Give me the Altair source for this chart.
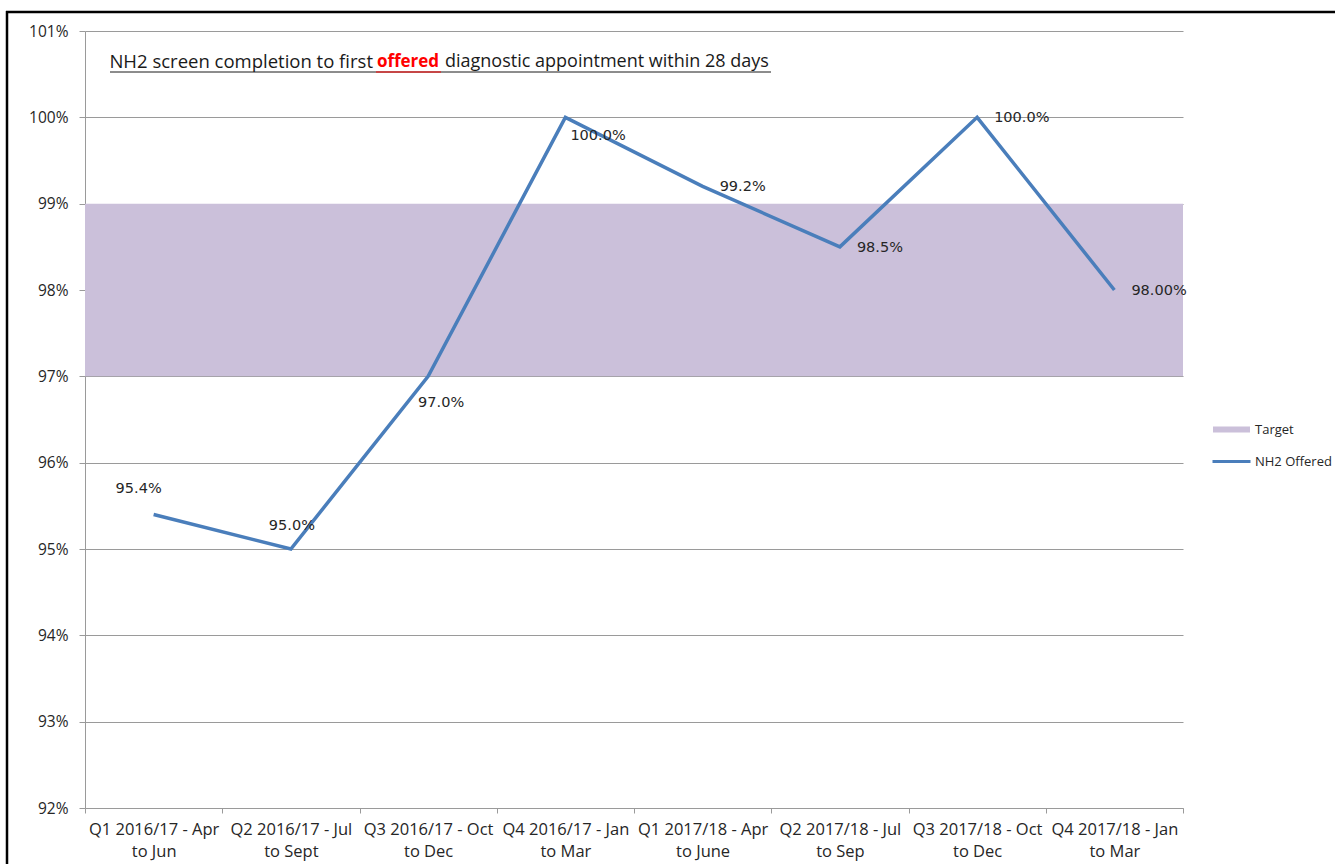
import altair as alt
import pandas as pd

categories = [
    "Q1 2016/17 - Apr to Jun",
    "Q2 2016/17 - Jul to Sept",
    "Q3 2016/17 - Oct to Dec",
    "Q4 2016/17 - Jan to Mar",
    "Q1 2017/18 - Apr to June",
    "Q2 2017/18 - Jul to Sep",
    "Q3 2017/18 - Oct to Dec",
    "Q4 2017/18 - Jan to Mar",
]
offered = [95.4, 95.0, 97.0, 100.0, 99.2, 98.5, 100.0, 98.0]
value_labels = ["95.4%", "95.0%", "97.0%", "100.0%", "99.2%", "98.5%", "100.0%", "98.00%"]
target_low = [97.0]
target_high = [99.0]
y_ticks = list(range(92, 102))
series = ["Target", "NH2 Offered"]
series_colors = ["#CBC0DA", "#4A7EBB"]
title_parts = ["NH2 screen completion to first ", "offered", " diagnostic appointment within 28 days"]

W, H = 1098, 777
FONT = "Open Sans"
LABEL_FONT = "DejaVu Sans"

df = pd.DataFrame({"cat": categories, "val": offered, "lab": value_labels})
band_df = pd.DataFrame({"lo": target_low, "hi": target_high})
one = pd.DataFrame({"a": [0]})

yscale = alt.Scale(domain=[92, 101], nice=False, zero=False)
xscale = alt.Scale(domain=categories, paddingInner=0, paddingOuter=0)

x_axis = alt.Axis(
    title=None, tickBand="extent", labelAngle=0, labelOverlap=False,
    labelExpr="[slice(datum.label, 0, indexof(datum.label, ' to ')), slice(datum.label, indexof(datum.label, ' to ') + 1)]",
    labelFont=FONT, labelFontSize=16.5, labelLineHeight=22, labelPadding=8,
    tickSize=5, grid=False, labelLimit=300,
)
y_axis = alt.Axis(
    title=None, values=y_ticks, labelExpr="datum.value + '%'",
    labelFont=FONT, labelFontSize=15.5, labelPadding=11, tickSize=6, grid=True,
)

base = alt.Chart(df).encode(
    x=alt.X("cat:N", sort=categories, scale=xscale, axis=x_axis),
    y=alt.Y("val:Q", scale=yscale, axis=y_axis),
)

band = alt.Chart(band_df).mark_rect(color=series_colors[0]).encode(
    y=alt.Y("lo:Q", scale=yscale, axis=y_axis),
    y2="hi:Q",
    x=alt.value(0),
    x2=alt.value(W),
)

line = base.mark_line(color=series_colors[1], strokeWidth=3.5)

def lab(cats, **kw):
    return base.mark_text(font=LABEL_FONT, fontSize=14.5, color="#262626", baseline="middle", **kw).encode(
        text="lab:N"
    ).transform_filter(alt.FieldOneOfPredicate(field="cat", oneOf=cats))

labels = [
    lab([categories[0]], align="center", dx=-15, dy=-25),
    lab([categories[1]], align="center", dx=1, dy=-23),
    lab([categories[2]], align="center", dx=13, dy=27),
    lab([categories[3]], align="left", dx=5, dy=19),
    lab(categories[4:], align="left", dx=17, dy=1),
]

path_target = "M-3.7,-0.6H3.7V0.6H-3.7Z"
path_line = "M-3.8,-0.32H3.8V0.32H-3.8Z"
leg = alt.Legend(
    title=None, orient="none", legendX=1140, legendY=392,
    labelFont=FONT, labelFontSize=13, labelColor="#262626",
    symbolSize=100, symbolStrokeWidth=0, symbolOpacity=1,
    labelOffset=17, rowPadding=18, padding=0,
)
legend_layer = alt.Chart(pd.DataFrame({"series": series})).mark_point(filled=True, opacity=0).encode(
    color=alt.Color("series:N", scale=alt.Scale(domain=series, range=series_colors), sort=series, legend=leg),
    shape=alt.Shape("series:N", scale=alt.Scale(domain=series, range=[path_target, path_line]), sort=series, legend=leg),
)

t_y = 31
title1 = alt.Chart(one).mark_text(font=FONT, fontSize=18.5, align="right", baseline="middle", color="#1a1a1a").encode(
    x=alt.value(288), y=alt.value(t_y), text=alt.value(title_parts[0].rstrip()))
title2 = alt.Chart(one).mark_text(font=FONT, fontSize=17, fontWeight="bold", align="center", baseline="middle", color="#FF0000").encode(
    x=alt.value(323), y=alt.value(t_y), text=alt.value(title_parts[1]))
title3 = alt.Chart(one).mark_text(font=FONT, fontSize=18, align="left", baseline="middle", color="#1a1a1a").encode(
    x=alt.value(360), y=alt.value(t_y), text=alt.value(title_parts[2].lstrip()))
under = alt.Chart(one).mark_rule(color="#1a1a1a", strokeWidth=1).encode(
    x=alt.value(25), x2=alt.value(686), y=alt.value(41))
under_red = alt.Chart(one).mark_rule(color="#FF0000", strokeWidth=1).encode(
    x=alt.value(291), x2=alt.value(356), y=alt.value(41))

border_top = alt.Chart(one).mark_rule(color="black", strokeWidth=2.5).encode(
    x=alt.value(-79), x2=alt.value(1260), y=alt.value(-19))
border_left = alt.Chart(one).mark_rule(color="black", strokeWidth=2.5).encode(
    x=alt.value(-78), y=alt.value(-20), y2=alt.value(840))

chart = alt.layer(
    band, line, *labels, legend_layer, title1, title2, title3, under, under_red, border_top, border_left
).properties(
    width=W, height=H,
    padding={"left": 85, "top": 31, "right": 152, "bottom": 56},
    autosize=alt.AutoSizeParams(type="none"),
).configure_view(stroke=None).configure_axis(
    gridColor="#9a9a9a", domainColor="#9a9a9a", tickColor="#9a9a9a", labelColor="#262626"
)

chart.save("out.html", embed_options={"renderer": "svg", "actions": False})
